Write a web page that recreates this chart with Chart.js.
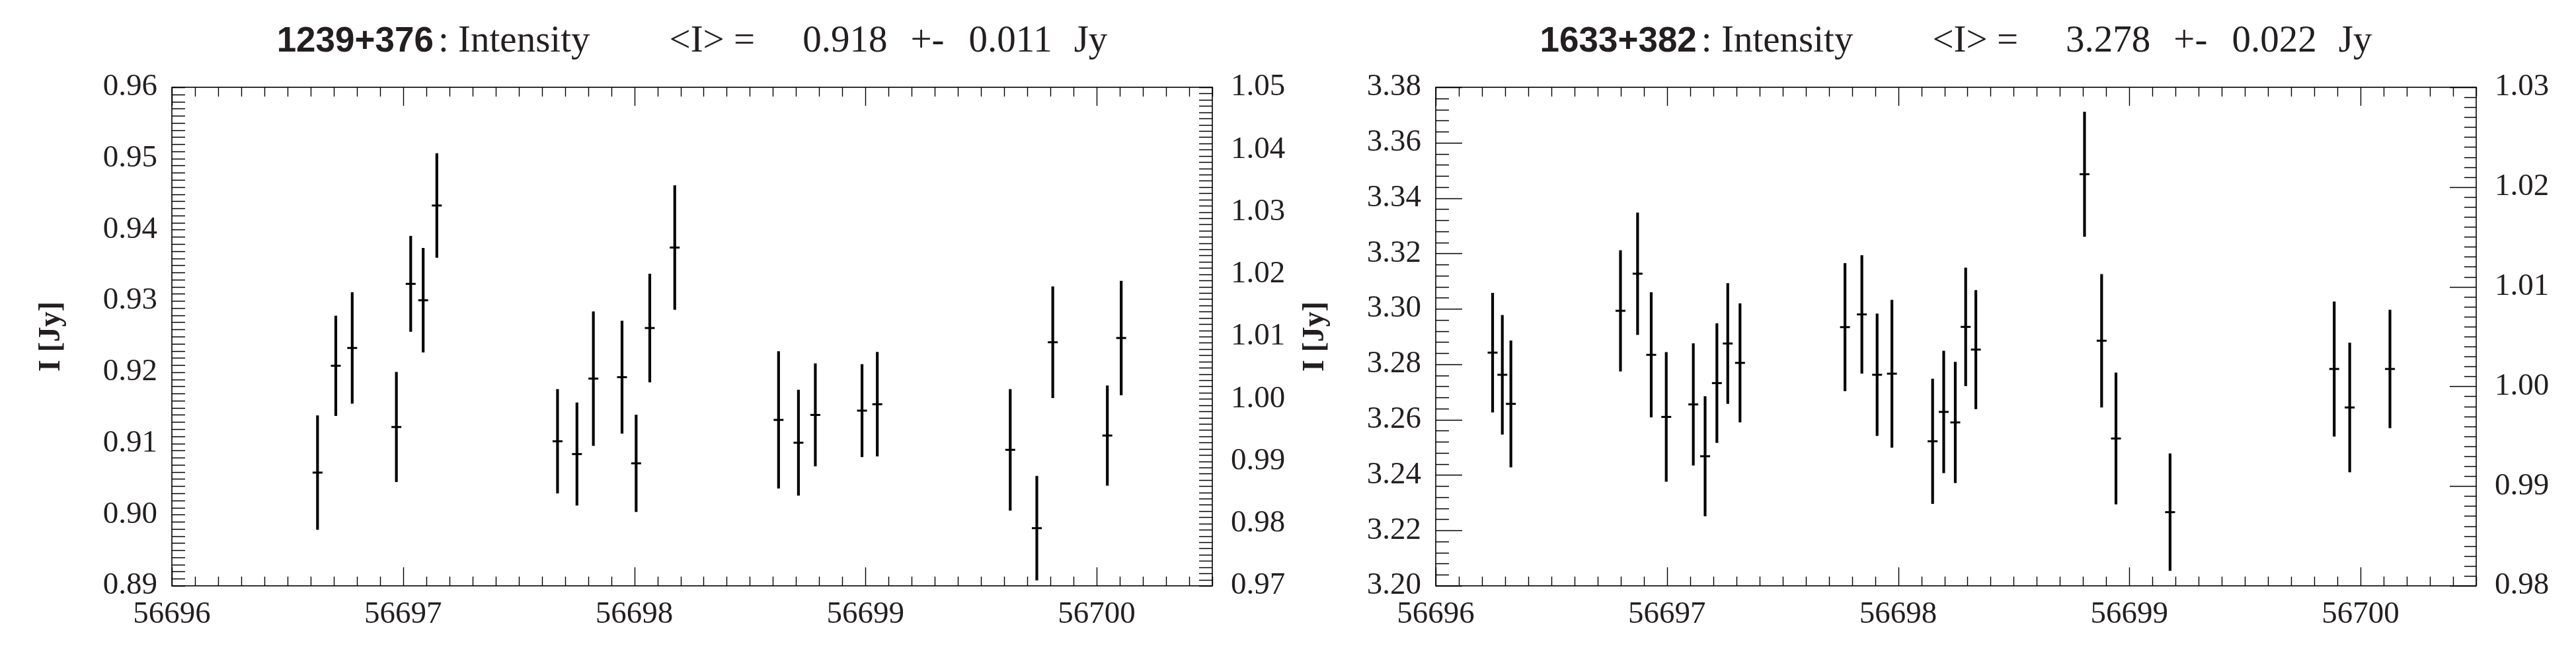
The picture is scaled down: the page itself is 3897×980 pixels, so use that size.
<!DOCTYPE html>
<html>
<head>
<meta charset="utf-8">
<script src="https://cdn.jsdelivr.net/npm/chart.js@4.4.1/dist/chart.umd.min.js"></script>
<style>
  html, body { margin: 0; padding: 0; background: #fff; }
  body { width: 3897px; height: 980px; position: relative; overflow: hidden; }
  .panel { position: absolute; top: 0; height: 980px; }
  .title {
    position: absolute; top: 30px; height: 64px;
    display: flex; justify-content: center; align-items: baseline;
    font-family: "Liberation Serif", serif; font-size: 57px; line-height: 1;
    color: #231f20; white-space: pre;
  }
  .title .src { font-family: "Liberation Sans", Arial, sans-serif; font-weight: bold; font-size: 53px; }
</style>
</head>
<body>
<div class="panel" style="left:0;width:1950px"><canvas id="chartA" width="1950" height="980"></canvas></div>
<div class="panel" style="left:1950px;width:1947px"><canvas id="chartB" width="1947" height="980"></canvas></div>
<div class="title" id="titleA" style="left:260px;width:1574px"></div>
<div class="title" id="titleB" style="left:2172px;width:1574px"></div>

<script>
// --- data ---
const sources = ["1239+376", "1633+382"];
const meanFlux = ["0.918", "3.278"];
const meanErr = ["0.011", "0.022"];

const xRange = [56696, 56700.5];
const xTicks = [56696, 56697, 56698, 56699, 56700];

// 1239+376
const mjdA = [56696.630, 56696.709, 56696.780, 56696.971, 56697.033, 56697.087, 56697.146,
  56697.668, 56697.752, 56697.823, 56697.947, 56698.008, 56698.067, 56698.175,
  56698.624, 56698.710, 56698.783, 56698.985, 56699.051,
  56699.626, 56699.741, 56699.810, 56700.046, 56700.106];
const fluxA = [0.9059, 0.9209, 0.9234, 0.9123, 0.9324, 0.9301, 0.9434,
  0.9103, 0.9085, 0.9191, 0.9193, 0.9072, 0.9262, 0.9375,
  0.9133, 0.9101, 0.9140, 0.9146, 0.9155,
  0.9091, 0.8981, 0.9242, 0.9111, 0.9248];
const errA = [0.0080, 0.0070, 0.0078, 0.0077, 0.0067, 0.0073, 0.0073,
  0.0073, 0.0072, 0.0094, 0.0079, 0.0068, 0.0076, 0.0087,
  0.0096, 0.0074, 0.0072, 0.0065, 0.0073,
  0.0085, 0.0073, 0.0078, 0.0070, 0.0080];
const yTicksA = [0.89, 0.90, 0.91, 0.92, 0.93, 0.94, 0.95, 0.96];
const y2TicksA = [0.97, 0.98, 0.99, 1.00, 1.01, 1.02, 1.03, 1.04, 1.05];

// 1633+382
const mjdB = [56696.246, 56696.288, 56696.325, 56696.799, 56696.873, 56696.932, 56696.997,
  56697.114, 56697.165, 56697.216, 56697.263, 56697.316,
  56697.770, 56697.843, 56697.909, 56697.973,
  56698.149, 56698.197, 56698.247, 56698.292, 56698.336,
  56698.806, 56698.880, 56698.942, 56699.176,
  56699.886, 56699.953, 56700.127];
const fluxB = [3.2842, 3.2762, 3.2657, 3.2993, 3.3127, 3.2834, 3.2610,
  3.2655, 3.2468, 3.2732, 3.2875, 3.2805,
  3.2934, 3.2980, 3.2762, 3.2766,
  3.2522, 3.2628, 3.2590, 3.2935, 3.2853,
  3.3486, 3.2885, 3.2532, 3.2266,
  3.2783, 3.2644, 3.2783];
const errB = [0.0215, 0.0215, 0.0228, 0.0218, 0.0220, 0.0225, 0.0233,
  0.0220, 0.0216, 0.0215, 0.0217, 0.0214,
  0.0230, 0.0213, 0.0220, 0.0266,
  0.0225, 0.0220, 0.0218, 0.0213, 0.0214,
  0.0225, 0.0240, 0.0237, 0.0211,
  0.0243, 0.0233, 0.0213];
const yTicksB = [3.20, 3.22, 3.24, 3.26, 3.28, 3.30, 3.32, 3.34, 3.36, 3.38];
const y2TicksB = [0.98, 0.99, 1.00, 1.01, 1.02, 1.03];

const INK = "#231f20";

function stepValues(min, max, step) {
  const out = [];
  for (let i = Math.ceil(min / step - 1e-6); i * step <= max + 1e-9; i++) out.push(i * step);
  return out;
}
function isMajor(v, step) {
  return Math.abs(v / step - Math.round(v / step)) < 1e-6;
}

// inward tick marks on all four sides + frame
const frameTicks = {
  id: "frameTicks",
  afterDraw(chart, args, o) {
    const { ctx, chartArea: a, scales } = chart;
    ctx.save();
    ctx.strokeStyle = "#000";
    ctx.lineWidth = 1.4;
    ctx.beginPath();
    // x (top and bottom)
    stepValues(scales.x.min, scales.x.max, o.x.minor).forEach(v => {
      const px = Math.round(scales.x.getPixelForValue(v)) + 0.5;
      const len = isMajor(v, o.x.major) ? o.x.majorLen : o.x.minorLen;
      ctx.moveTo(px, a.bottom); ctx.lineTo(px, a.bottom - len);
      ctx.moveTo(px, a.top); ctx.lineTo(px, a.top + len);
    });
    // left
    stepValues(scales.y.min, scales.y.max, o.y.minor).forEach(v => {
      const py = Math.round(scales.y.getPixelForValue(v)) + 0.5;
      const len = isMajor(v, o.y.major) ? o.y.majorLen : o.y.minorLen;
      ctx.moveTo(a.left, py); ctx.lineTo(a.left + len, py);
    });
    // right
    stepValues(scales.y2.min, scales.y2.max, o.y2.minor).forEach(v => {
      const py = Math.round(scales.y2.getPixelForValue(v)) + 0.5;
      const len = isMajor(v, o.y2.major) ? o.y2.majorLen : o.y2.minorLen;
      ctx.moveTo(a.right, py); ctx.lineTo(a.right - len, py);
    });
    ctx.stroke();
    ctx.lineWidth = 1.6;
    ctx.strokeRect(a.left, a.top, a.width, a.height);
    ctx.restore();
  }
};

const tickFont = { family: "Liberation Serif", size: 47 };

function makePanel(id, mjd, flux, err, yTicks, y2Ticks, leftW, rightW, titlePad, tickOpts) {
  const bars = mjd.map((x, i) => ({ x: x, y: [flux[i] - err[i], flux[i] + err[i]] }));
  const marks = mjd.map((x, i) => ({ x: x, y: flux[i] }));

  return new Chart(document.getElementById(id), {
    type: "bar",
    data: {
      datasets: [
        { type: "bar", data: bars, backgroundColor: "#000", borderWidth: 0,
          barThickness: 3.5, yAxisID: "y" },
        { type: "scatter", data: marks, pointStyle: "line", radius: 7.5,
          borderColor: "#000", borderWidth: 3, backgroundColor: "#000", yAxisID: "y" }
      ]
    },
    options: {
      responsive: false,
      animation: false,
      events: [],
      layout: { padding: { top: 132, left: 0, right: 0, bottom: 0 } },
      plugins: { legend: { display: false }, tooltip: { enabled: false }, frameTicks: tickOpts },
      scales: {
        x: {
          type: "linear", position: "bottom", offset: false,
          min: xRange[0], max: xRange[1],
          grid: { display: false, drawTicks: false }, border: { display: false },
          afterBuildTicks: s => { s.ticks = xTicks.map(v => ({ value: v })); },
          afterFit: s => { s.height = 94; },
          ticks: { font: tickFont, color: INK, padding: 15, autoSkip: false, maxRotation: 0,
            callback: v => v.toFixed(0) }
        },
        y: {
          type: "linear", position: "left",
          min: yTicks[0], max: yTicks[yTicks.length - 1],
          grid: { display: false, drawTicks: false }, border: { display: false },
          afterBuildTicks: s => { s.ticks = yTicks.map(v => ({ value: v })); },
          afterFit: s => { s.width = leftW; },
          ticks: { font: tickFont, color: INK, padding: 22, autoSkip: false,
            callback: v => v.toFixed(2) },
          title: { display: true, text: "I [Jy]", color: INK,
            font: { family: "Liberation Serif", size: 46, weight: "bold" },
            padding: { top: titlePad, bottom: 0 } }
        },
        y2: {
          type: "linear", position: "right",
          min: y2Ticks[0], max: y2Ticks[y2Ticks.length - 1],
          grid: { display: false, drawTicks: false }, border: { display: false },
          afterBuildTicks: s => { s.ticks = y2Ticks.map(v => ({ value: v })); },
          afterFit: s => { s.width = rightW; },
          ticks: { font: tickFont, color: INK, padding: 28, autoSkip: false,
            callback: v => v.toFixed(2) }
        }
      }
    },
    plugins: [frameTicks]
  });
}

function fillTitle(id, k) {
  const el = document.getElementById(id);
  el.innerHTML =
    `<span class="src">${sources[k]}</span>` +
    `<span style="margin-left:7px">: Intensity</span>` +
    `<span style="margin-left:120px">&lt;I&gt; =</span>` +
    `<span style="margin-left:72px">${meanFlux[k]}</span>` +
    `<span style="margin-left:35px">+-</span>` +
    `<span style="margin-left:37px">${meanErr[k]}</span>` +
    `<span style="margin-left:33px">Jy</span>`;
}

const xOpts = { major: 1, minor: 0.1, majorLen: 28, minorLen: 14 };

makePanel("chartA", mjdA, fluxA, errA, yTicksA, y2TicksA, 260, 116, 51, {
  x: xOpts,
  y: { major: 0.01, minor: 0.001, majorLen: 20, minorLen: 20 },
  y2: { major: 0.01, minor: 0.001, majorLen: 20, minorLen: 20 }
});
makePanel("chartB", mjdB, fluxB, errB, yTicksB, y2TicksB, 222, 151, 13, {
  x: xOpts,
  y: { major: 0.02, minor: 0.004, majorLen: 40, minorLen: 20 },
  y2: { major: 0.01, minor: 0.001, majorLen: 40, minorLen: 18 }
});

fillTitle("titleA", 0);
fillTitle("titleB", 1);
</script>
</body>
</html>
